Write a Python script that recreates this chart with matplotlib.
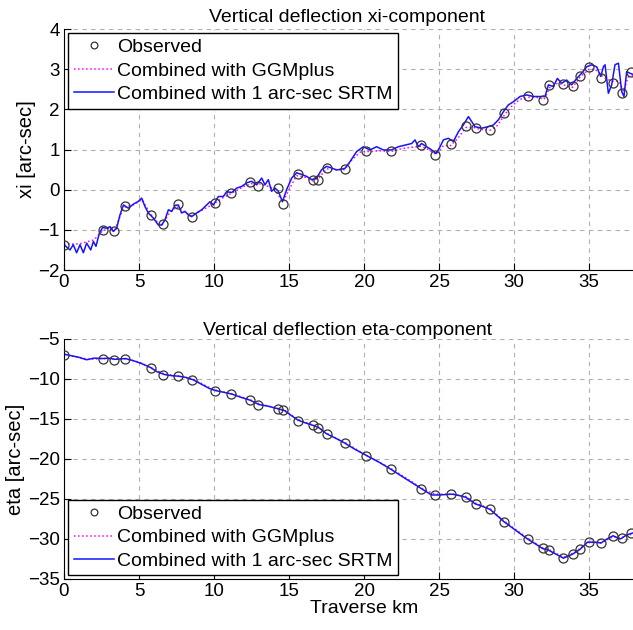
import matplotlib
matplotlib.use("Agg")
import matplotlib.pyplot as plt

plt.rcParams["font.family"] = ["Liberation Sans", "DejaVu Sans"]

# Observation stations along the traverse (km)
station_km = [0, 2.6, 3.35, 4.05, 5.77, 6.6, 7.58, 8.55, 10.05, 11.12, 12.4, 12.95,
              14.25, 14.62, 15.57, 16.6, 16.93, 17.5, 18.7, 20.15, 21.8, 23.83, 24.72,
              25.83, 26.78, 27.47, 28.38, 29.35, 30.93, 31.9, 32.3, 33.28, 33.93, 34.43,
              34.97, 35.83, 36.57, 37.17, 37.8]
xi_obs = [-1.37, -1.0, -1.04, -0.40, -0.63, -0.85, -0.36, -0.67, -0.34, -0.07, 0.19, 0.1,
          0.03, -0.35, 0.39, 0.24, 0.24, 0.55, 0.51, 0.97, 0.96, 1.11, 0.87,
          1.13, 1.59, 1.53, 1.49, 1.90, 2.33, 2.23, 2.61, 2.62, 2.57, 2.83,
          3.06, 2.77, 2.65, 2.40, 2.92]
eta_obs = [-6.99, -7.49, -7.61, -7.53, -8.65, -9.48, -9.69, -10.1, -11.47, -11.89, -12.68, -13.2,
           -13.76, -13.92, -15.2, -15.8, -16.1, -16.87, -17.99, -19.65, -21.3, -23.8, -24.5,
           -24.42, -24.75, -25.66, -26.29, -27.82, -30.02, -31.18, -31.35, -32.43, -31.89, -31.27,
           -30.35, -30.56, -29.6, -29.94, -29.27]

# xi, combined with 1 arc-sec SRTM
srtm_xi_km = [0, 0.4, 0.62, 0.84, 1.07, 1.29, 1.51, 1.78, 1.96, 2.13, 2.36, 2.58, 2.84, 3.07,
              3.29, 3.51, 3.73, 3.96, 4.29, 4.62, 4.96, 5.18, 5.4, 5.62, 5.96, 6.29, 6.51,
              6.73, 6.96, 7.18, 7.4, 7.62, 7.84, 8.07, 8.29, 8.51, 8.84, 9.18, 9.51, 9.73,
              9.96, 10.29, 10.62, 10.84, 11.18, 11.51, 11.84, 12.18, 12.51, 12.84, 13.18,
              13.4, 13.62, 13.84, 14.07, 14.29, 14.56, 14.84, 15.18, 15.51, 15.84, 16.18,
              16.51, 16.84, 17.18, 17.51, 17.84, 18.18, 18.73, 19.07, 19.51, 19.96, 20.4,
              20.84, 21.29, 21.84, 22.29, 22.73, 23.18, 23.4, 23.62, 23.84, 24.18, 24.51,
              24.8, 25.07, 25.29, 25.62, 25.96, 26.29, 26.62, 26.96, 27.4, 27.84, 28.29,
              28.62, 28.96, 29.29, 29.62, 29.96, 30.4, 30.84, 31.29, 31.73, 32.07, 32.29,
              32.62, 32.89, 33.18, 33.51, 33.84, 34.18, 34.51, 34.84, 35.18, 35.51, 35.78,
              35.96, 36.07, 36.29, 36.51, 36.73, 36.96, 37.18, 37.33, 37.51, 37.73, 38.0]
srtm_xi = [-1.37, -1.5, -1.37, -1.57, -1.37, -1.57, -1.33, -1.5, -1.29, -1.41, -1.08, -0.94,
           -0.96, -0.92, -1.04, -0.96, -0.63, -0.38, -0.46, -0.36, -0.29, -0.21, -0.42,
           -0.58, -0.71, -0.88, -0.88, -0.75, -0.5, -0.54, -0.39, -0.38, -0.58, -0.54,
           -0.63, -0.67, -0.58, -0.5, -0.38, -0.3, -0.38, -0.17, -0.17, -0.05, -0.07,
           0.04, 0.08, 0.17, 0.21, 0.12, 0.29, 0.12, 0.25, -0.04, 0.04, -0.04, -0.3, 0.0,
           0.29, 0.42, 0.38, 0.33, 0.25, 0.29, 0.5, 0.58, 0.54, 0.49, 0.53, 0.70, 0.95,
           1.07, 0.99, 1.07, 0.99, 0.99, 1.07, 1.11, 1.15, 1.24, 1.07, 1.15, 1.07, 0.99,
           0.9, 1.07, 1.24, 1.28, 1.2, 1.44, 1.61, 1.82, 1.57, 1.53, 1.57, 1.61, 1.74,
           1.94, 2.11, 2.19, 2.32, 2.36, 2.32, 2.32, 2.32, 2.61, 2.57, 2.77, 2.65, 2.73,
           2.61, 2.77, 2.90, 3.06, 3.11, 3.06, 2.82, 3.06, 3.11, 2.40, 2.61, 3.11, 3.15,
           2.44, 2.32, 2.94, 2.90, 2.86]

# xi, combined with GGMplus
ggm_xi_km = [0, 0.5, 1.0, 1.5, 2.0, 2.5, 3.0, 3.4, 3.8, 4.1, 4.6, 5.2, 5.6, 6.0, 6.5, 7.0,
             7.5, 8.0, 8.5, 9.0, 9.5, 10.0, 10.5, 11.0, 11.5, 12.0, 12.5, 13.0, 13.5, 14.0,
             14.6, 15.0, 15.5, 16.0, 16.6, 17.0, 17.5, 18.0, 18.7, 19.2, 19.8, 20.5, 21.0,
             21.8, 22.5, 23.0, 23.8, 24.2, 24.8, 25.3, 25.8, 26.3, 26.8, 27.3, 27.8, 28.4,
             28.9, 29.4, 29.9, 30.4, 31.0, 31.5, 32.0, 32.4, 32.9, 33.4, 33.9, 34.4, 35.0,
             35.4, 35.8, 36.2, 36.6, 37.0, 37.3, 37.6, 38.0]
ggm_xi = [-1.35, -1.35, -1.35, -1.3, -1.25, -1.05, -0.95, -1.0, -0.6, -0.42, -0.38, -0.25,
          -0.5, -0.72, -0.9, -0.6, -0.42, -0.55, -0.65, -0.55, -0.45, -0.35, -0.22, -0.12,
          -0.02, 0.08, 0.15, 0.15, 0.1, 0.02, -0.3, 0.0, 0.35, 0.32, 0.22, 0.3, 0.52, 0.5,
          0.5, 0.75, 0.95, 0.95, 0.97, 0.95, 1.02, 1.05, 1.08, 1.02, 0.88, 1.1, 1.1, 1.3,
          1.55, 1.55, 1.5, 1.48, 1.6, 1.88, 2.1, 2.25, 2.3, 2.3, 2.25, 2.55, 2.65, 2.6,
          2.55, 2.8, 3.0, 3.0, 2.85, 2.75, 2.7, 2.7, 2.45, 2.8, 2.85]

# eta, combined with 1 arc-sec SRTM
srtm_eta_km = [0, 0.5, 1.0, 1.5, 2.0, 2.6, 3.0, 3.4, 4.1, 4.6, 5.2, 5.8, 6.2, 6.7, 7.2, 7.6,
               8.1, 8.6, 9.2, 9.7, 10.1, 10.6, 11.2, 11.8, 12.4, 13.0, 13.6, 14.3, 14.7,
               15.1, 15.6, 16.1, 16.6, 17.0, 17.5, 18.1, 18.7, 19.4, 20.2, 21.0, 21.8, 22.8,
               23.9, 24.5, 25.0, 25.9, 26.4, 26.8, 27.4, 28.0, 28.4, 29.3, 30.1, 30.9, 31.5,
               31.9, 32.3, 32.8, 33.3, 33.9, 34.4, 34.9, 35.4, 35.8, 36.2, 36.6, 37.1, 37.5,
               38.0]
srtm_eta = [-6.9, -7.1, -7.3, -7.6, -7.4, -7.45, -7.4, -7.55, -7.45, -7.7, -8.1, -8.6, -9.1,
            -9.45, -9.6, -9.65, -9.8, -10.1, -10.7, -11.2, -11.45, -11.65, -11.9, -12.3,
            -12.65, -13.2, -13.4, -13.75, -13.95, -14.5, -15.15, -15.5, -15.8, -16.1,
            -16.85, -17.4, -18.0, -18.8, -19.6, -20.4, -21.3, -22.5, -23.8, -24.5, -24.5,
            -24.4, -24.6, -24.8, -25.6, -26.0, -26.3, -27.8, -28.9, -30.0, -30.7, -31.2,
            -31.4, -31.9, -32.4, -31.9, -31.3, -30.4, -30.4, -30.5, -30.0, -29.6, -30.0,
            -29.5, -29.2]

# eta, combined with GGMplus
ggm_eta_km = [0, 1.0, 1.6, 2.6, 3.4, 4.1, 5.0, 5.8, 6.7, 7.6, 8.6, 9.6, 10.1, 11.2, 12.4,
              13.0, 14.3, 14.7, 15.6, 16.6, 17.0, 17.5, 18.7, 20.2, 21.8, 23.9, 24.7, 25.9,
              26.8, 27.4, 28.4, 29.3, 30.9, 31.9, 32.3, 33.3, 33.9, 34.4, 34.9, 35.8, 36.6,
              37.1, 38.0]
ggm_eta = [-7.0, -7.3, -7.55, -7.45, -7.5, -7.5, -7.9, -8.6, -9.4, -9.6, -10.0, -11.0,
           -11.4, -11.85, -12.6, -13.1, -13.7, -13.9, -15.1, -15.75, -16.1, -16.8, -17.9,
           -19.6, -21.2, -23.7, -24.4, -24.4, -24.7, -25.5, -26.2, -27.7, -29.9, -31.1,
           -31.3, -32.3, -31.8, -31.2, -30.4, -30.5, -29.7, -29.9, -29.3]

fig = plt.figure(figsize=(6.33, 6.30), dpi=100)
# the original figure is cropped on the right, so the axes run past the edge
ax_xi = fig.add_axes([0.1011, 0.5714, 0.9479, 0.3825])
ax_eta = fig.add_axes([0.1011, 0.081, 0.9479, 0.381])

leg_kw = dict(borderaxespad=0, fontsize=14, handlelength=2.1, handletextpad=0.15,
              labelspacing=0.3, borderpad=0.28, fancybox=False, edgecolor="black",
              framealpha=1, markerscale=0.75)

panels = [
    (ax_xi, xi_obs, ggm_xi_km, ggm_xi, srtm_xi_km, srtm_xi),
    (ax_eta, eta_obs, ggm_eta_km, ggm_eta, srtm_eta_km, srtm_eta),
]
for ax, obs, gx, gy, sx, sy in panels:
    ax.plot(station_km, obs, "o", mfc="none", mec="#333333", ms=6.5, mew=0.9,
            label="Observed", zorder=3)
    ax.plot(gx, gy, ":", color="#ff00ff", lw=1.1, label="Combined with GGMplus", zorder=2)
    ax.plot(sx, sy, "-", color="#1414ff", lw=1.1,
            label="Combined with 1 arc-sec SRTM", zorder=2)
    ax.set_xlim(0, 40)
    ax.set_xticks(range(0, 40, 5))
    ax.grid(True, linestyle=(0, (4, 4)), color="#b0b0b0", lw=0.8)
    ax.set_axisbelow(True)
    ax.spines["top"].set_visible(False)
    ax.spines["right"].set_visible(False)
    ax.tick_params(direction="in", length=5, labelsize=13.5, pad=3)

ax_xi.set_ylim(-2, 4)
ax_xi.set_yticks(range(-2, 5))
ax_xi.set_ylabel("xi [arc-sec]", fontsize=14.5, labelpad=2)
ax_xi.set_title("Vertical deflection xi-component", fontsize=14, pad=5, x=0.472)
ax_xi.legend(loc="upper left", bbox_to_anchor=(0.007, 0.983), **leg_kw)

ax_eta.set_ylim(-35, -5)
ax_eta.set_yticks(range(-35, 0, 5))
ax_eta.set_ylabel("eta [arc-sec]", fontsize=14.5, labelpad=2)
ax_eta.set_title("Vertical deflection eta-component", fontsize=14, pad=2, x=0.472)
ax_eta.set_xlabel("Traverse km", fontsize=14, labelpad=0)
ax_eta.legend(loc="lower left", bbox_to_anchor=(0.007, 0.015), **leg_kw)

fig.savefig("out.png", dpi=100)
